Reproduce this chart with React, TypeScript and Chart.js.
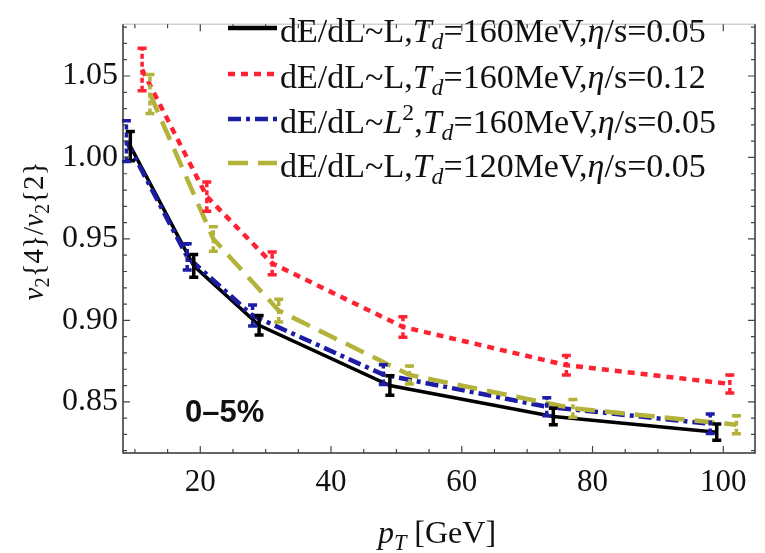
import React, { useEffect, useRef } from "react";
import { Chart, registerables } from "chart.js";

Chart.register(...registerables);

// ---- data ----
const blackX = [9.3, 19, 29, 49, 74, 99];
const blackY = [1.007, 0.9335, 0.897, 0.86, 0.841, 0.8314];
const blackErr = [0.009, 0.007, 0.006, 0.006, 0.005, 0.005];

const redX = [11.1, 21, 31, 51, 76, 101];
const redY = [1.054, 0.976, 0.935, 0.896, 0.8725, 0.861];
const redErr = [0.013, 0.009, 0.007, 0.0063, 0.006, 0.0055];

const blueX = [8.7, 18, 28, 48, 73, 98];
const blueY = [1.01, 0.939, 0.903, 0.8667, 0.847, 0.8365];
const blueErr = [0.0125, 0.008, 0.0065, 0.006, 0.0055, 0.006];

const yellowX = [12.3, 22, 32, 52, 77, 102];
const yellowY = [1.039, 0.95, 0.906, 0.8665, 0.846, 0.8359];
const yellowErr = [0.012, 0.0075, 0.007, 0.0055, 0.0055, 0.0055];

const xTicks = [20, 40, 60, 80, 100];
const yTicks = [0.85, 0.9, 0.95, 1.0, 1.05];

const seriesNames = [
  "dE/dL~L,Td=160MeV,η/s=0.05",
  "dE/dL~L,Td=160MeV,η/s=0.12",
  "dE/dL~L2,Td=160MeV,η/s=0.05",
  "dE/dL~L,Td=120MeV,η/s=0.05",
];
const centralityLabel = "0–5%";

type Part = { t: string; it?: boolean; sub?: boolean; sup?: boolean };

const legendRows: Part[][] = [
  [{ t: "dE/dL~L," }, { t: "T", it: true }, { t: "d", it: true, sub: true }, { t: "=160MeV," }, { t: "η", it: true }, { t: "/s=0.05" }],
  [{ t: "dE/dL~L," }, { t: "T", it: true }, { t: "d", it: true, sub: true }, { t: "=160MeV," }, { t: "η", it: true }, { t: "/s=0.12" }],
  [{ t: "dE/dL~" }, { t: "L", it: true }, { t: "2", sup: true }, { t: "," }, { t: "T", it: true }, { t: "d", it: true, sub: true }, { t: "=160MeV," }, { t: "η", it: true }, { t: "/s=0.05" }],
  [{ t: "dE/dL~L," }, { t: "T", it: true }, { t: "d", it: true, sub: true }, { t: "=120MeV," }, { t: "η", it: true }, { t: "/s=0.05" }],
];
const xTitle: Part[] = [{ t: "p", it: true }, { t: "T", it: true, sub: true }, { t: " [GeV]" }];
const yTitle: Part[] = [{ t: "v", it: true }, { t: "2", sub: true }, { t: "{4}/" }, { t: "v", it: true }, { t: "2", sub: true }, { t: "{2}" }];

// ---- styles ----
const SERIF = "'Liberation Serif', 'Times New Roman', serif";
const SANS = "'Liberation Sans', Arial, sans-serif";
const seriesX = [blackX, redX, blueX, yellowX];
const seriesY = [blackY, redY, blueY, yellowY];
const seriesErr = [blackErr, redErr, blueErr, yellowErr];
const seriesColors = ["#000000", "#ff2233", "#1c1ca4", "#b3b33b"];
const seriesDash = [[], [7, 6], [13, 5, 4, 5], [20, 10]];
const seriesWidth = [3.5, 4.5, 4.5, 4.5];

function partsWidth(ctx: CanvasRenderingContext2D, parts: Part[], size: number, family: string) {
  let w = 0;
  for (const p of parts) {
    const s = p.sub || p.sup ? size * 0.7 : size;
    ctx.font = `${p.it ? "italic " : ""}${s}px ${family}`;
    w += ctx.measureText(p.t).width;
  }
  return w;
}

function drawParts(ctx: CanvasRenderingContext2D, parts: Part[], x: number, y: number, size: number, family: string) {
  let cx = x;
  ctx.textBaseline = "alphabetic";
  ctx.textAlign = "left";
  for (const p of parts) {
    const s = p.sub || p.sup ? size * 0.7 : size;
    ctx.font = `${p.it ? "italic " : ""}${s}px ${family}`;
    const dy = p.sub ? size * 0.22 : p.sup ? -size * 0.38 : 0;
    ctx.fillText(p.t, cx, y + dy);
    cx += ctx.measureText(p.t).width;
  }
  return cx - x;
}

const decorPlugin = {
  id: "decor",
  afterDatasetsDraw(chart: any) {
    const ctx: CanvasRenderingContext2D = chart.ctx;
    const xs = chart.scales.x;
    const ys = chart.scales.y;
    // error bars
    for (let i = 0; i < seriesX.length; i++) {
      ctx.save();
      ctx.strokeStyle = seriesColors[i];
      ctx.lineWidth = 3.5;
      for (let j = 0; j < seriesX[i].length; j++) {
        const px = xs.getPixelForValue(seriesX[i][j]);
        const y1 = ys.getPixelForValue(seriesY[i][j] - seriesErr[i][j]);
        const y2 = ys.getPixelForValue(seriesY[i][j] + seriesErr[i][j]);
        ctx.setLineDash(seriesDash[i].length ? [5, 3] : []);
        ctx.beginPath();
        ctx.moveTo(px, y1);
        ctx.lineTo(px, y2);
        ctx.stroke();
        ctx.setLineDash([]);
        ctx.beginPath();
        ctx.moveTo(px - 4.5, y1);
        ctx.lineTo(px + 4.5, y1);
        ctx.moveTo(px - 4.5, y2);
        ctx.lineTo(px + 4.5, y2);
        ctx.stroke();
      }
      ctx.restore();
    }
  },
  afterDraw(chart: any) {
    const ctx: CanvasRenderingContext2D = chart.ctx;
    const { left, right, top, bottom } = chart.chartArea;
    const xs = chart.scales.x;
    const ys = chart.scales.y;
    ctx.save();
    // frame
    ctx.lineWidth = 1.5;
    ctx.strokeStyle = "#d0d0d0";
    ctx.beginPath();
    ctx.moveTo(left, top);
    ctx.lineTo(right, top);
    ctx.stroke();
    ctx.strokeStyle = "#333";
    ctx.beginPath();
    ctx.moveTo(left, top);
    ctx.lineTo(left, bottom);
    ctx.lineTo(right, bottom);
    ctx.lineTo(right, top);
    ctx.stroke();
    // ticks
    ctx.lineWidth = 1.2;
    ctx.strokeStyle = "#444";
    ctx.beginPath();
    for (let v = 10; v <= 104; v += 5) {
      const px = xs.getPixelForValue(v);
      const len = v % 20 === 0 ? 7 : 4;
      ctx.moveTo(px, bottom);
      ctx.lineTo(px, bottom - len);
      ctx.moveTo(px, top);
      ctx.lineTo(px, top + len);
    }
    for (let k = 82; k <= 108; k++) {
      const py = ys.getPixelForValue(k / 100);
      const len = k % 5 === 0 ? 7 : 4;
      ctx.moveTo(left, py);
      ctx.lineTo(left + len, py);
      ctx.moveTo(right, py);
      ctx.lineTo(right - len, py);
    }
    ctx.stroke();

    // axis titles
    ctx.fillStyle = "#111";
    const xw = partsWidth(ctx, xTitle, 32, SERIF);
    drawParts(ctx, xTitle, 437 - xw / 2, 543, 32, SERIF);
    ctx.save();
    ctx.translate(43, 231);
    ctx.rotate(-Math.PI / 2);
    const yw = partsWidth(ctx, yTitle, 29, SERIF);
    drawParts(ctx, yTitle, -yw / 2, 0, 29, SERIF);
    ctx.restore();

    // legend
    const baselines = [42, 88, 133, 177];
    for (let i = 0; i < legendRows.length; i++) {
      const ly = baselines[i] - 14;
      ctx.save();
      ctx.strokeStyle = seriesColors[i];
      ctx.lineWidth = 4.5;
      ctx.setLineDash(seriesDash[i]);
      ctx.beginPath();
      ctx.moveTo(228, ly);
      ctx.lineTo(277, ly);
      ctx.stroke();
      ctx.restore();
      ctx.fillStyle = "#111";
      drawParts(ctx, legendRows[i], 280, baselines[i], 34, SERIF);
    }

    // centrality label
    ctx.font = `bold 31px ${SANS}`;
    ctx.fillStyle = "#111";
    ctx.textAlign = "left";
    ctx.textBaseline = "alphabetic";
    ctx.fillText(centralityLabel, 185, 422);
    ctx.restore();
  },
};

export default function App() {
  const ref = useRef<HTMLCanvasElement | null>(null);
  useEffect(() => {
    if (!ref.current) return;
    const datasets = seriesX.map((xsArr, i) => ({
      label: seriesNames[i],
      data: xsArr.map((x, j) => ({ x, y: seriesY[i][j] })),
      borderColor: seriesColors[i],
      backgroundColor: seriesColors[i],
      borderWidth: seriesWidth[i],
      borderDash: seriesDash[i],
      pointRadius: 0,
      tension: 0,
      fill: false,
      order: 4 - i,
    }));
    const chart = new Chart(ref.current, {
      type: "line",
      data: { datasets },
      options: {
        animation: false,
        responsive: false,
        devicePixelRatio: 1,
        layout: { padding: { left: 0, top: 6, right: 10, bottom: 0 } },
        plugins: { legend: { display: false }, tooltip: { enabled: false } },
        scales: {
          x: {
            type: "linear",
            min: 8.18,
            max: 104.85,
            afterBuildTicks: (s: any) => {
              s.ticks = xTicks.map((v) => ({ value: v }));
            },
            afterFit: (s: any) => {
              s.height = 100;
            },
            grid: { display: false, drawTicks: false },
            border: { display: false },
            ticks: {
              autoSkip: false,
              maxRotation: 0,
              padding: 11,
              color: "#111",
              font: { family: SERIF, size: 31 },
              callback: (v: any) => String(v),
            },
          },
          y: {
            type: "linear",
            min: 0.8186,
            max: 1.0818,
            afterBuildTicks: (s: any) => {
              s.ticks = yTicks.map((v) => ({ value: v }));
            },
            afterFit: (s: any) => {
              s.width = 123;
            },
            grid: { display: false, drawTicks: false },
            border: { display: false },
            ticks: {
              padding: 5,
              color: "#111",
              font: { family: SERIF, size: 32 },
              callback: (v: any) => Number(v).toFixed(2),
            },
          },
        },
      },
      plugins: [decorPlugin],
    });
    return () => chart.destroy();
  }, []);
  return (
    <div style={{ position: "absolute", left: 0, top: 0, width: 765, height: 553, background: "#fff" }}>
      <canvas ref={ref} width={765} height={553} />
    </div>
  );
}
